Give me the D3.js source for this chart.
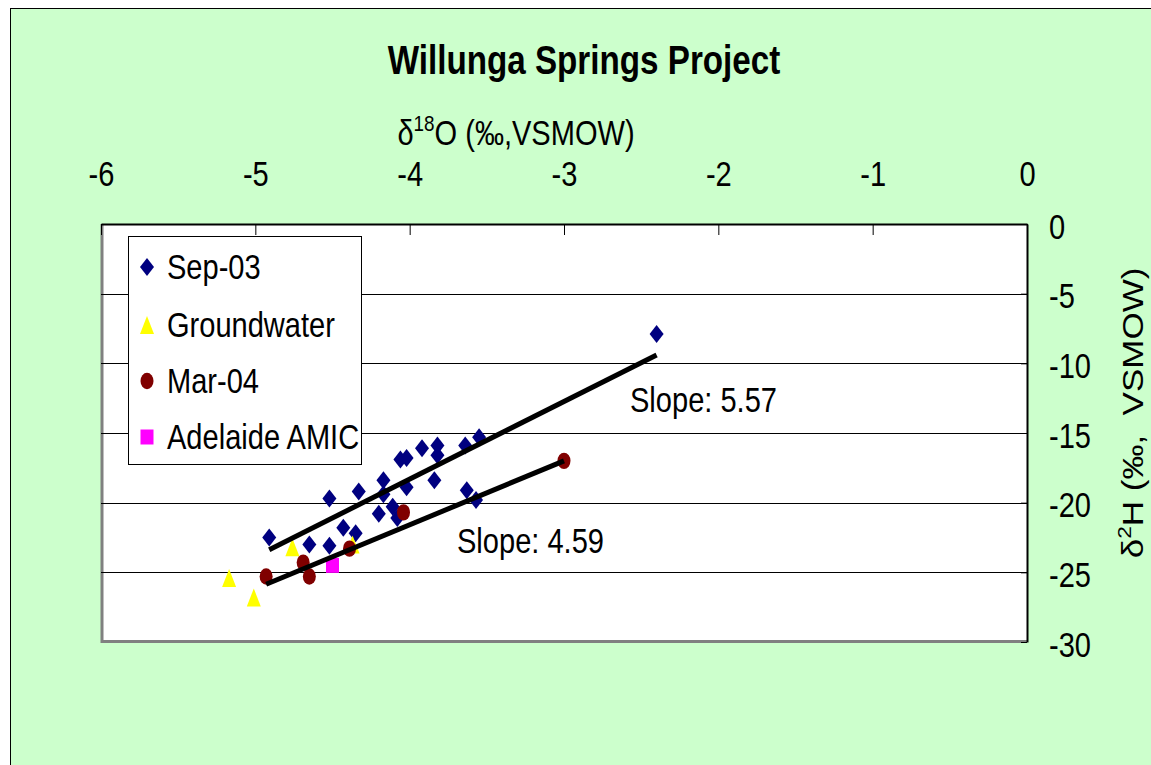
<!DOCTYPE html>
<html>
<head>
<meta charset="utf-8">
<script src="https://cdn.jsdelivr.net/npm/d3@7/dist/d3.min.js"></script>
<style>
  html, body { margin: 0; padding: 0; background: #ffffff; }
  svg { display: block; }
  text { font-family: "Liberation Sans", Arial, sans-serif; fill: #000; }
</style>
</head>
<body>
<svg id="chart" width="1151" height="765"></svg>
<script>
// ---------------- data ----------------
const sep03X = [-4.91, -4.52, -4.33, -4.65, -4.52, -4.43, -4.35, -4.20, -4.17, -4.17, -4.11, -4.08,
                -4.06, -4.02, -4.02, -3.92, -3.82, -3.82, -3.84, -3.64, -3.55, -3.63, -3.57, -2.40];
const sep03Y = [-22.5, -19.7, -19.2, -23.0, -23.1, -21.8, -22.2, -20.8, -18.4, -19.4, -20.3, -21.1,
                -16.9, -16.8, -18.9, -16.1, -15.9, -16.6, -18.4, -15.9, -15.3, -19.1, -19.8, -7.9];
const gwX = [-5.17, -5.01, -4.76, -4.37];
const gwY = [-25.4, -26.8, -23.2, -23.0];
const mar04X = [-4.93, -4.69, -4.65, -4.39, -4.04, -3.00];
const mar04Y = [-25.3, -24.3, -25.3, -23.3, -20.7, -17.0];
const amicX = [-4.50];
const amicY = [-24.5];

const seriesNames = ["Sep-03", "Groundwater", "Mar-04", "Adelaide AMIC"];
const seriesColors = ["#000080", "#FFFF00", "#800000", "#FF00FF"];

// trendlines (slope, intercept) for Sep-03 and Mar-04
const trendSlopes = [5.57, 4.59];
const trendIntercepts = [3.97, -3.23];
const trendLabels = ["Slope: 5.57", "Slope: 4.59"];

const xTicks = [-6, -5, -4, -3, -2, -1, 0];
const yTicks = [0, -5, -10, -15, -20, -25, -30];

const titleText = "Willunga Springs Project";

// ---------------- layout ----------------
const svg = d3.select("#chart");
const SX = 0.83;           // horizontal compression of the text in the original
const FS = 35;             // font size
const plot = { left: 101, right: 1027, top: 224, bottom: 642 };

const x = d3.scaleLinear().domain([-6, 0]).range([plot.left, plot.right]);
const y = d3.scaleLinear().domain([-30, 0]).range([plot.bottom, plot.top]);
const fmt = d => String(d);   // plain hyphen-minus, as in the original

// chart area
svg.append("rect").attr("x", 10.5).attr("y", 8.5).attr("width", 1300).attr("height", 900)
  .attr("fill", "#CCFFCC").attr("stroke", "#000").attr("stroke-width", 1);

// plot area
svg.append("rect").attr("x", plot.left).attr("y", plot.top)
  .attr("width", plot.right - plot.left).attr("height", plot.bottom - plot.top)
  .attr("fill", "#fff");
// gray border left/bottom
svg.append("path")
  .attr("d", `M${plot.left + 1},${plot.top} V${plot.bottom - 0.5} H${plot.right}`)
  .attr("fill", "none").attr("stroke", "#808080").attr("stroke-width", 3);

// gridlines
svg.append("g").selectAll("line").data(yTicks.filter(d => d !== 0 && d !== -30)).join("line")
  .attr("x1", plot.left).attr("x2", plot.right)
  .attr("y1", d => Math.round(y(d)) + 0.5).attr("y2", d => Math.round(y(d)) + 0.5)
  .attr("stroke", "#000").attr("stroke-width", 1);

// x axis (top)
const xAxis = d3.axisTop(x).tickValues(xTicks).tickSizeInner(-11).tickSizeOuter(0).tickPadding(38)
  .tickFormat(fmt);
const gx = svg.append("g").attr("transform", `translate(0,${plot.top})`).call(xAxis);
gx.select(".domain").attr("stroke", "#000").attr("stroke-width", 2);
gx.selectAll(".tick line").attr("stroke", "#000").attr("stroke-width", 1);
gx.selectAll(".tick text").attr("font-size", FS).attr("font-family", "Liberation Sans, Arial")
  .attr("fill", "#000").attr("transform", `scale(${SX},1)`);

// y axis (right)
const yAxis = d3.axisRight(y).tickValues(yTicks).tickSizeInner(-6).tickSizeOuter(0).tickPadding(22)
  .tickFormat(fmt);
const gy = svg.append("g").attr("transform", `translate(${plot.right},0)`).call(yAxis);
gy.select(".domain").attr("stroke", "#000").attr("stroke-width", 2);
gy.selectAll(".tick line").attr("stroke", "#000");
gy.selectAll(".tick text").attr("font-size", FS).attr("font-family", "Liberation Sans, Arial")
  .attr("fill", "#000").attr("x", 22 / SX).attr("dy", "0.4em").attr("transform", `scale(${SX},1)`);

// title
svg.append("text").attr("transform", `translate(584,74) scale(${SX},1)`)
  .attr("text-anchor", "middle").attr("font-size", 40).attr("font-weight", "bold").text(titleText);

// x axis title
const xt = svg.append("text").attr("transform", `translate(516,145) scale(${SX},1)`)
  .attr("text-anchor", "middle").attr("font-size", FS);
xt.append("tspan").text("\u03B4");
xt.append("tspan").attr("font-size", FS * 0.65).attr("dy", -14).text("18");
xt.append("tspan").attr("dy", 14).text("O (\u2030,VSMOW)");

// y axis title
const yt = svg.append("text").attr("transform", `translate(1143,413) rotate(-90) scale(1,${SX})`)
  .attr("text-anchor", "middle").attr("font-size", FS);
yt.append("tspan").text("\u03B4");
yt.append("tspan").attr("font-size", FS * 0.65).attr("dy", -14).text("2");
yt.append("tspan").attr("dy", 14).text("H (\u2030,  VSMOW)");
yt.attr("xml:space", "preserve").style("white-space", "pre");

// ---------------- markers ----------------
function markerPath(type) {
  const w = 7, h = 9;
  if (type === 0) return `M0,${-h} L${w},0 L0,${h} L${-w},0 Z`;
  if (type === 1) return `M0,${-h} L${w},${h} L${-w},${h} Z`;
  if (type === 3) return `M${-6.5},${-7.5} H6.5 V7.5 H-6.5 Z`;
  return null;
}
function drawSeries(xs, ys, type) {
  const pts = xs.map((v, i) => [v, ys[i]]);
  const g = svg.append("g");
  if (type === 2) {
    g.selectAll("ellipse").data(pts).join("ellipse")
      .attr("cx", d => x(d[0])).attr("cy", d => y(d[1])).attr("rx", 6.5).attr("ry", 8.2)
      .attr("fill", seriesColors[type]);
  } else {
    g.selectAll("path").data(pts).join("path")
      .attr("transform", d => `translate(${x(d[0])},${y(d[1])})`)
      .attr("d", markerPath(type)).attr("fill", seriesColors[type]);
  }
}
drawSeries(sep03X, sep03Y, 0);
drawSeries(gwX, gwY, 1);
drawSeries(mar04X, mar04Y, 2);
drawSeries(amicX, amicY, 3);

// trendlines
const trendX = [d3.extent(sep03X), d3.extent(mar04X)];
trendX.forEach((ext, i) => {
  const line = d3.line().x(d => x(d)).y(d => y(trendSlopes[i] * d + trendIntercepts[i]));
  svg.append("path").attr("d", line(ext)).attr("stroke", "#000").attr("stroke-width", 5)
    .attr("fill", "none");
});

// slope labels
const slopePos = [[630, 412], [457, 553]];
trendLabels.forEach((t, i) => {
  svg.append("text").attr("transform", `translate(${slopePos[i][0]},${slopePos[i][1]}) scale(${SX},1)`)
    .attr("font-size", FS).text(t);
});

// ---------------- legend ----------------
const leg = svg.append("g");
leg.append("rect").attr("x", 128.5).attr("y", 236.5).attr("width", 233).attr("height", 228)
  .attr("fill", "#fff").attr("stroke", "#000").attr("stroke-width", 1);
const legY = [267, 325, 381, 437];
seriesNames.forEach((name, i) => {
  if (i === 2) {
    leg.append("ellipse").attr("cx", 147).attr("cy", legY[i]).attr("rx", 6.5).attr("ry", 8.2)
      .attr("fill", seriesColors[i]);
  } else {
    leg.append("path").attr("transform", `translate(147,${legY[i]})`).attr("d", markerPath(i))
      .attr("fill", seriesColors[i]);
  }
  leg.append("text").attr("transform", `translate(167,${legY[i] + 12}) scale(${SX},1)`)
    .attr("font-size", FS).text(name);
});
</script>
</body>
</html>
